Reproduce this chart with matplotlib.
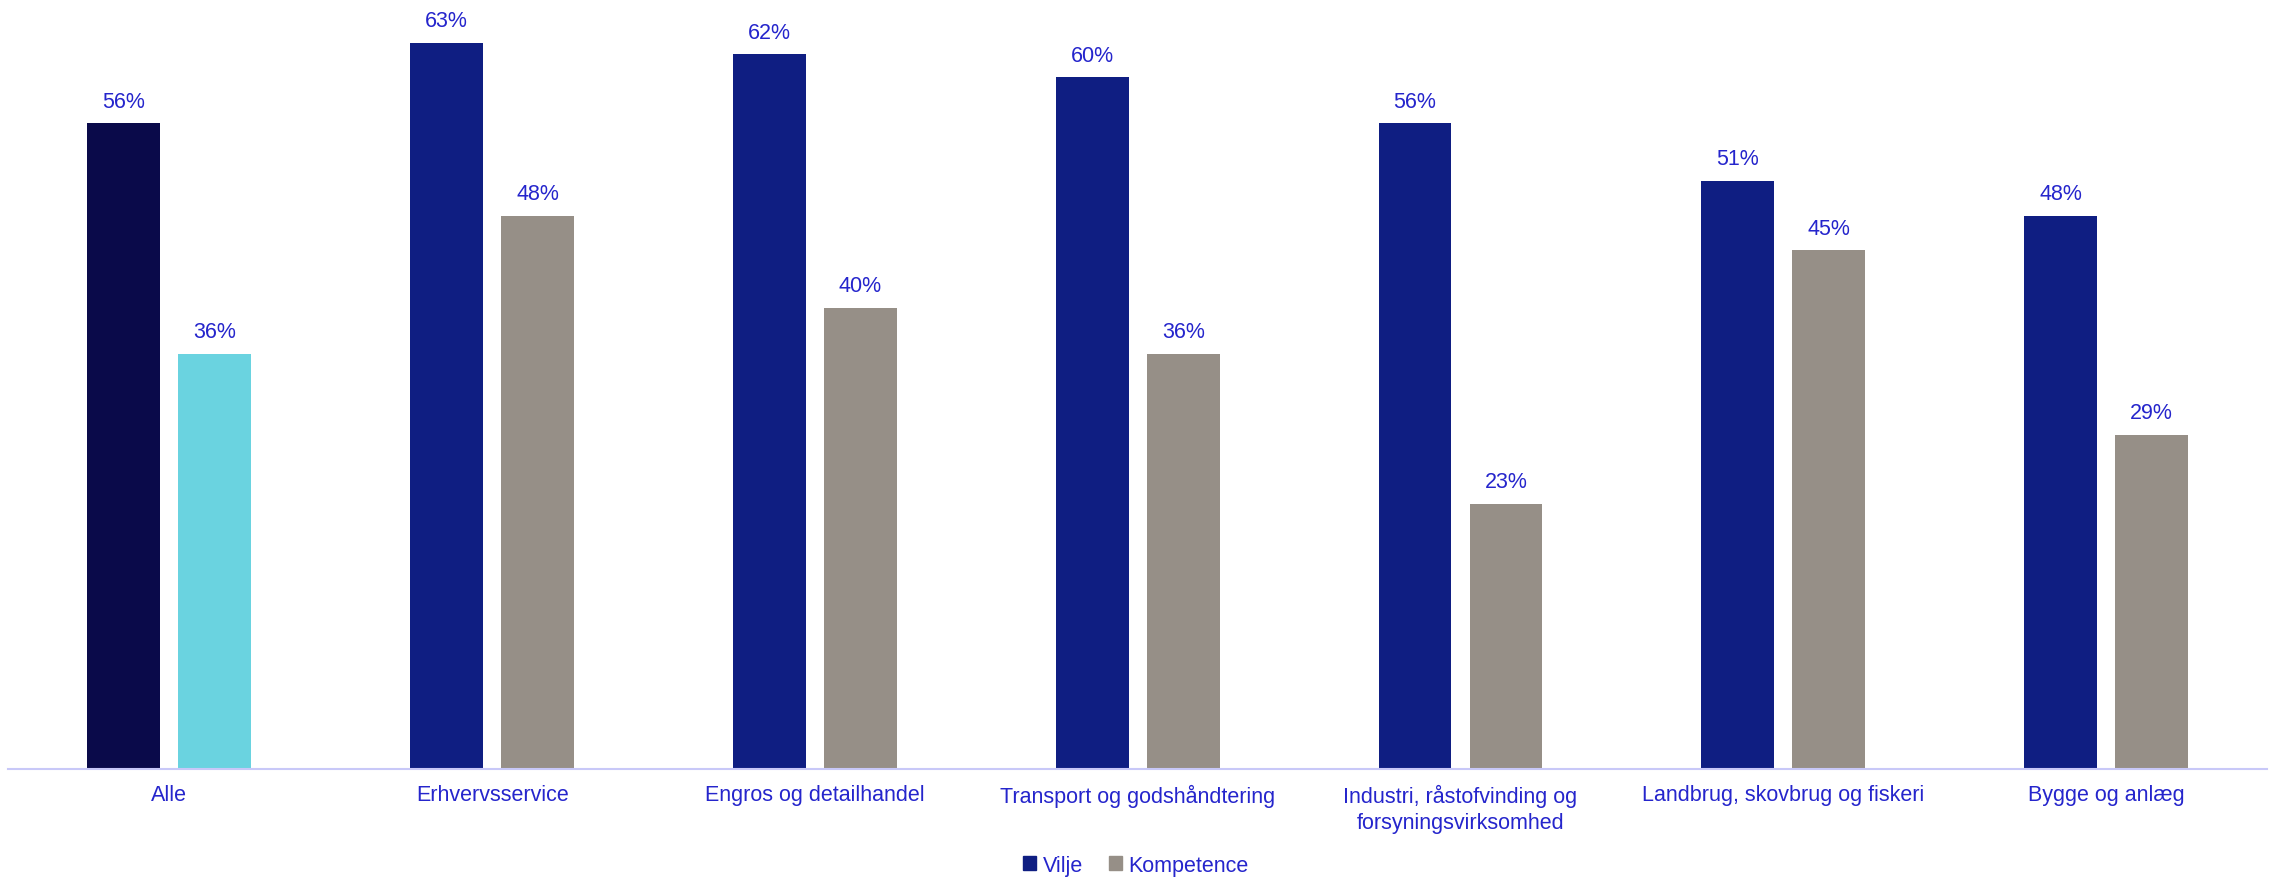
import matplotlib.pyplot as plt
import numpy as np

categories = ['Alle', 'Erhvervsservice', 'Engros og detailhandel', 'Transport og godshåndtering',
              'Industri, råstofvinding og\nforsyningsvirksomhed', 'Landbrug, skovbrug og fiskeri',
              'Bygge og anlæg']
vilje = [56, 63, 62, 60, 56, 51, 48]
kompetence = [36, 48, 40, 36, 23, 45, 29]

plt.rcParams['font.family'] = ['Liberation Sans', 'DejaVu Sans']
txtColor = '#2525CC'

vilje_colors = ['#0A0A4A'] + ['#0F1E82'] * 6
komp_colors = ['#6AD3E0'] + ['#968F87'] * 6

fig = plt.figure(figsize=(22.72, 8.79), dpi=100)
ax = fig.add_axes([0.0035, 0.124, 0.9945, 0.876])

x = np.arange(len(categories))
w = 0.226
off = 0.141
b1 = ax.bar(x - off, vilje, w, color=vilje_colors)
b2 = ax.bar(x + off, kompetence, w, color=komp_colors)

for bars, vals in [(b1, vilje), (b2, kompetence)]:
    for b, v in zip(bars, vals):
        ax.annotate('%d%%' % v, (b.get_x() + b.get_width() / 2, v), xytext=(0, 16),
                    textcoords='offset points', ha='center', va='center',
                    fontsize=15.5, color=txtColor)

ax.set_xlim(-0.5, len(categories) - 0.5)
ax.set_ylim(0, 66.8)
ax.set_xticks(x)
ax.set_xticklabels(categories, fontsize=15.5, color=txtColor, linespacing=1.3)
ax.tick_params(axis='x', length=0, pad=11)
ax.set_yticks([])
for s in ['top', 'right', 'left']:
    ax.spines[s].set_visible(False)
ax.spines['bottom'].set_color('#C8C8F8')
ax.spines['bottom'].set_linewidth(1.5)

h1 = plt.Rectangle((0, 0), 1, 1, color='#0F1E82')
h2 = plt.Rectangle((0, 0), 1, 1, color='#968F87')
leg = fig.legend([h1, h2], ['Vilje', 'Kompetence'], loc='center', bbox_to_anchor=(0.5, 0.0145),
                 ncol=2, frameon=False, fontsize=15.5, handlelength=0.6, handleheight=0.6,
                 handletextpad=0.3, columnspacing=1.2)
for t in leg.get_texts():
    t.set_color(txtColor)

fig.savefig('out.png', dpi=100)
